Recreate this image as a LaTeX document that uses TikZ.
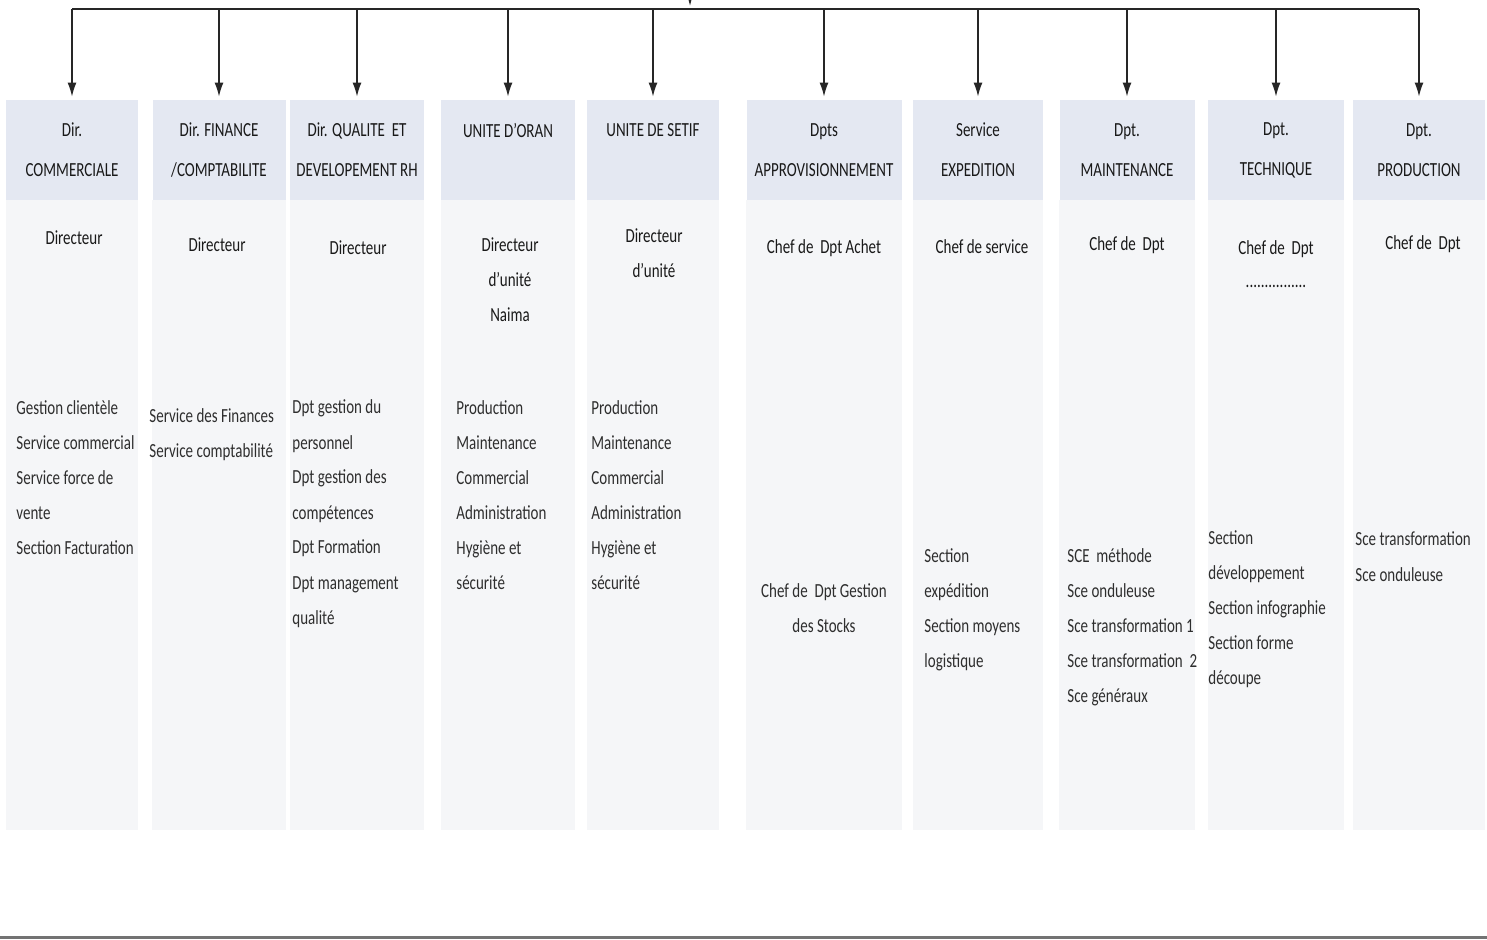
\documentclass[tikz,border=0pt]{standalone}
\usepackage{fontspec}
\setmainfont{Carlito}[FakeStretch=0.75]
\usepackage{xcolor}
\usetikzlibrary{arrows.meta,positioning,backgrounds}
\definecolor{hdrblue}{RGB}{228,232,242}
\definecolor{colgray}{RGB}{245,246,248}

\begin{document}
\begin{tikzpicture}[x=0.5pt,y=-0.5pt,
  hdr/.style={fill=hdrblue,minimum height=50pt,inner sep=0pt,align=center,
    text=black!90,font=\fontsize{10}{20}\selectfont},
  chef/.style={align=center,inner sep=0pt,anchor=base,text=black!90,
    font=\fontsize{10}{17.5}\selectfont},
  liste/.style={align=left,inner sep=0pt,anchor=base west,text=black!82,
    font=\fontsize{10}{17.5}\selectfont},
  arr/.style={-{Latex[length=7pt,width=4.5pt]},line width=0.7pt,black!85,shorten >=1.5pt},
  barline/.style={line width=1.4pt,black!85}]
  \useasboundingbox (0,0) rectangle (1487,940);
  \coordinate (bar) at (0,9);
  \coordinate (src) at (690,-10);
  % en-tetes
  \node[hdr,minimum width=66pt] (comm) at (72,150) {Dir.\\COMMERCIALE};
  \node[hdr,minimum width=66.5pt] (fin) at (219,150) {Dir. FINANCE\\/COMPTABILITE};
  \node[hdr,minimum width=67pt] (qual) at (357,150) {Dir. QUALITE\ \ ET\\DEVELOPEMENT RH};
  \node[hdr,minimum width=67pt] (oran) at (508,150) {UNITE D'ORAN\\\mbox{}};
  \node[hdr,minimum width=66pt] (setif) at (653,150) {UNITE DE SETIF\\\mbox{}};
  \node[hdr,minimum width=77.5pt] (appro) at (824,150) {Dpts\\APPROVISIONNEMENT};
  \node[hdr,minimum width=65pt] (exped) at (978,150) {Service\\EXPEDITION};
  \node[hdr,minimum width=67.5pt] (maint) at (1127,150) {Dpt.\\MAINTENANCE};
  \node[hdr,minimum width=68pt] (tech) at (1276,150) {Dpt.\\TECHNIQUE};
  \node[hdr,minimum width=66pt] (prod) at (1419,150) {Dpt.\\PRODUCTION};
  % colonnes
  \begin{scope}[on background layer]
    \foreach \n in {comm,fin,qual,oran,setif,appro,exped,maint,tech,prod}
      \fill[colgray] (\n.south west) rectangle (\n.east |- 0,830);
  \end{scope}
  % liaisons
  \draw[barline] (comm.north |- bar) -- (prod.north |- bar);
  \draw[arr] (src) -- (src |- bar);
  \foreach \n in {comm,fin,qual,oran,setif,appro,exped,maint,tech,prod}
    \draw[arr] (\n.north |- bar) -- (\n.north);
  % responsables (ancre = ligne de base de la derniere ligne)
  \node[chef] (comm-chef) at (74,245) {Directeur};
  \node[chef] (fin-chef) at (217,252) {Directeur};
  \node[chef] (qual-chef) at (358,255) {Directeur};
  \node[chef] (oran-chef) at (510,322) {Directeur\\d'unité\\Naima};
  \node[chef] (setif-chef) at (654,278) {Directeur\\d'unité};
  \node[chef] (appro-chef) at (824,254) {Chef de\ \ Dpt Achet};
  \node[chef] (exped-chef) at (982,254) {Chef de service};
  \node[chef] (maint-chef) at (1127,251) {Chef de\ \ Dpt};
  \node[chef] (tech-chef) at (1276,288) {Chef de\ \ Dpt\\[-1pt]................};
  \node[chef] (prod-chef) at (1423,250) {Chef de\ \ Dpt};
  % services
  \node[liste] (comm-list) at (16,554) {Gestion clientèle\\Service commercial\\Service force de\\vente\\Section Facturation};
  \node[liste] (fin-list) at (149,458) {Service des Finances\\Service comptabilité};
  \node[liste] (qual-list) at (292,624) {Dpt gestion du\\personnel\\Dpt gestion des\\compétences\\Dpt Formation\\Dpt management\\qualité};
  \node[liste] (oran-list) at (456,589) {Production\\Maintenance\\Commercial\\Administration\\Hygiène et\\sécurité};
  \node[liste] (setif-list) at (591,589) {Production\\Maintenance\\Commercial\\Administration\\Hygiène et\\sécurité};
  \node[chef,text=black!82] (appro-list) at (824,632) {Chef de\ \ Dpt Gestion\\des Stocks};
  \node[liste] (exped-list) at (924,667) {Section\\expédition\\Section moyens\\logistique};
  \node[liste] (maint-list) at (1067,702) {SCE\ \ méthode\\Sce onduleuse\\Sce transformation 1\\Sce transformation\ \ 2\\Sce généraux};
  \node[liste] (tech-list) at (1208,684) {Section\\développement\\Section infographie\\Section forme\\découpe};
  \node[liste] (prod-list) at (1355,581) {Sce transformation\\Sce onduleuse};
  % bord du bas
  \draw[black!55,line width=1.5pt] (0,937) -- (1487,937);
\end{tikzpicture}
\end{document}
